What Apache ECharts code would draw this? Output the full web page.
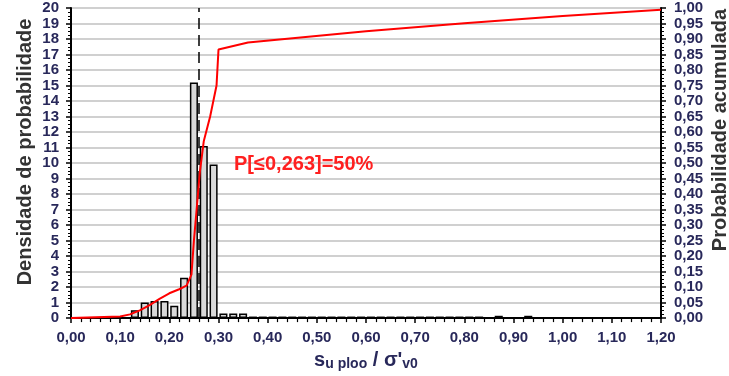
<!DOCTYPE html>
<html>
<head>
<meta charset="utf-8">
<script src="https://cdn.jsdelivr.net/npm/echarts@6/dist/echarts.min.js"></script>
<style>
html,body{margin:0;padding:0;background:#fff;}
#c{width:729px;height:376px;}
</style>
</head>
<body>
<div id="c"></div>
<script>
// Histogram bins of width 0.02 from 0.00 to 1.20 (60 bins), density values
const binStarts = Array.from({length: 60}, (_, i) => (i * 0.02).toFixed(2));
const densityValues = [
  0, 0, 0, 0, 0, 0,            // 0.00 - 0.12
  0.5, 1.0, 1.1, 1.1, 0.8, 2.6, // 0.12 - 0.24
  15.2, 11.1, 9.9,             // 0.24 - 0.30
  0.3, 0.3, 0.3,               // 0.30 - 0.36
  0.1, 0.1, 0.1, 0.1, 0.1, 0.1, 0.1, 0.1, 0.1, 0.1, 0.1, 0.1, // 0.36 - 0.60
  0.1, 0.1, 0.1, 0.1, 0.1, 0.1, 0.1, 0.1, 0.1, 0.1, 0.1, 0.1, // 0.60 - 0.84
  0, 0.15, 0, 0, 0.15,         // 0.84 - 0.94
  0, 0, 0, 0, 0, 0, 0, 0, 0, 0, 0, 0, 0 // 0.94 - 1.20
];
// Cumulative probability curve
const cdfX = [0, 0.10, 0.12, 0.14, 0.16, 0.18, 0.20, 0.22, 0.235, 0.245, 0.25, 0.255, 0.262, 0.27, 0.283, 0.296, 0.30, 0.30, 0.36, 0.60, 0.80, 1.00, 1.20];
const cdfY = [0, 0.005, 0.012, 0.025, 0.042, 0.062, 0.08, 0.093, 0.105, 0.14, 0.25, 0.34, 0.47, 0.57, 0.65, 0.75, 0.75, 0.866, 0.889, 0.925, 0.951, 0.974, 0.994];
const medianValue = 0.263;
const annotationText = 'P[≤0,263]=50%';
const leftTitle = 'Densidade de probabilidade';
const rightTitle = 'Probabilidade acumulada';
const xTickStep = 0.1;
const leftTickStep = 1;
const rightTickStep = 0.05;

const comma = v => v.toFixed(2).replace('.', ',');
const labelColor = '#28285a';
const fontFamily = '"Liberation Sans", Arial, sans-serif';
const tickFont = {color: labelColor, fontSize: 15, fontWeight: 'bold', fontFamily: fontFamily};

const chart = echarts.init(document.getElementById('c'));
chart.setOption({
  animation: false,
  backgroundColor: '#ffffff',
  grid: {left: 71, right: 68, top: 8, bottom: 55},
  xAxis: [
    {
      type: 'value', min: 0, max: 1.2, interval: xTickStep,
      axisLine: {lineStyle: {color: '#000', width: 2}},
      axisTick: {show: true, length: 5, lineStyle: {color: '#000', width: 1.5}},
      minorTick: {show: true, splitNumber: 5, length: 4, lineStyle: {color: '#000', width: 1.2}},
      splitLine: {show: false},
      axisLabel: Object.assign({formatter: comma, margin: 12}, tickFont),
      name: '{s|s}{sub|u ploo}{s| / σ\'}{sub|v0}',
      nameLocation: 'middle', nameGap: 24,
      nameTextStyle: {
        rich: {
          s: {fontSize: 20, fontWeight: 'bold', color: labelColor, fontFamily: fontFamily},
          sub: {fontSize: 14, fontWeight: 'bold', color: labelColor, fontFamily: fontFamily, verticalAlign: 'bottom', padding: [8, 0, 0, 0]}
        }
      }
    },
    {
      type: 'category', data: binStarts, boundaryGap: true,
      show: false
    }
  ],
  yAxis: [
    {
      type: 'value', min: 0, max: 20, interval: leftTickStep,
      axisLine: {show: true, lineStyle: {color: '#000', width: 2}},
      axisTick: {show: true, length: 5, lineStyle: {color: '#000', width: 1.5}},
      minorTick: {show: true, splitNumber: 4, length: 3, lineStyle: {color: '#000', width: 1}},
      splitLine: {show: true, lineStyle: {color: '#c0c0c0', width: 1.5}},
      axisLabel: Object.assign({margin: 12}, tickFont)
    },
    {
      type: 'value', min: 0, max: 1, interval: rightTickStep,
      axisLine: {show: true, lineStyle: {color: '#000', width: 2}},
      axisTick: {show: true, length: 5, lineStyle: {color: '#000', width: 1.5}},
      minorTick: {show: true, splitNumber: 4, length: 3, lineStyle: {color: '#000', width: 1}},
      splitLine: {show: false},
      axisLabel: Object.assign({formatter: comma, margin: 13}, tickFont)
    }
  ],
  series: [
    {
      type: 'bar', xAxisIndex: 1, yAxisIndex: 0,
      data: densityValues,
      barCategoryGap: '18%',
      itemStyle: {color: '#d9d9d9', borderColor: '#000', borderWidth: 1.5},
      z: 2
    },
    {
      type: 'line', xAxisIndex: 0, yAxisIndex: 1,
      data: cdfX.map((x, i) => [x, cdfY[i]]),
      showSymbol: false, symbol: 'none',
      lineStyle: {color: '#ff0000', width: 2},
      z: 4,
      markLine: {
        silent: true, symbol: 'none',
        label: {show: false},
        lineStyle: {color: '#000', type: [11, 6], width: 1.5},
        data: [{xAxis: medianValue}],
        z: 1
      }
    }
  ],
  graphic: [
    {
      type: 'text', left: 234, top: 154, z: 10,
      style: {text: annotationText, fill: '#ff2020', fontSize: 20, fontWeight: 'bold', fontFamily: fontFamily}
    },
    {
      type: 'text', x: 25, y: 152, rotation: Math.PI / 2, z: 10,
      style: {text: leftTitle, fill: '#333', fontSize: 20, fontWeight: 'bold', fontFamily: fontFamily, align: 'center', verticalAlign: 'middle'}
    },
    {
      type: 'text', x: 720, y: 130, rotation: Math.PI / 2, z: 10,
      style: {text: rightTitle, fill: '#333', fontSize: 20, fontWeight: 'bold', fontFamily: fontFamily, align: 'center', verticalAlign: 'middle'}
    }
  ]
});
</script>
</body>
</html>
